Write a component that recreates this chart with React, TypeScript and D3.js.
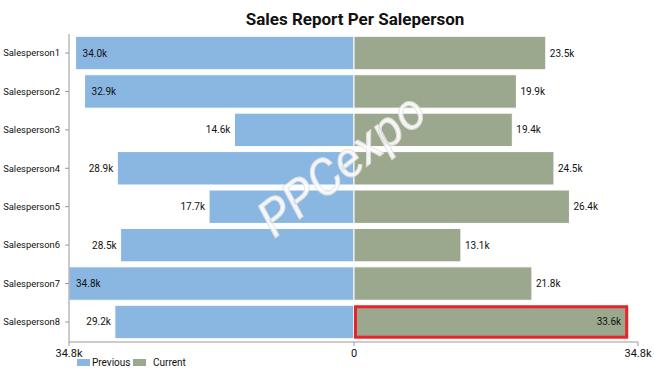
import React from 'react';
import { scaleBand, scaleLinear, max } from 'd3';

const categories = ['Salesperson1', 'Salesperson2', 'Salesperson3', 'Salesperson4', 'Salesperson5', 'Salesperson6', 'Salesperson7', 'Salesperson8'];
const previous = [34.0, 32.9, 14.6, 28.9, 17.7, 28.5, 34.8, 29.2];
const current = [23.5, 19.9, 19.4, 24.5, 26.4, 13.1, 21.8, 33.6];
const highlighted = ['Salesperson8'];

const W = 655;
const H = 375;
const left = 69;
const mid = 354;
const right = 638;
const top = 34;
const bottom = 341;

const fmt = (v: number) => `${v.toFixed(1)}k`;
const font = 'Roboto, sans-serif';

const App: React.FC = () => {
  const maxV = max([...previous, ...current]) as number;
  const y = scaleBand<string>().domain(categories).range([top, bottom]).paddingInner(0.13).paddingOuter(0.06);
  const xl = scaleLinear().domain([0, maxV]).range([mid, left]);
  const xr = scaleLinear().domain([0, maxV]).range([mid, right]);
  const bw = y.bandwidth();
  const labelW = 30;

  return (
    <svg width={W} height={H} style={{ position: 'absolute', left: 0, top: 0, fontFamily: font }}>
      <rect width={W} height={H} fill="#fff" />
      <text x={355} y={25} textAnchor="middle" fontSize={17} fontWeight="bold" fill="#111">Sales Report Per Saleperson</text>

      {categories.map((c, i) => {
        const yy = y(c)!;
        const cy = yy + bw / 2;
        const xp = xl(previous[i]);
        const xc = xr(current[i]);
        const prevInside = xp - left < labelW + 6;
        const curInside = right - xc < labelW + 6;
        return (
          <g key={c}>
            <rect x={xp} y={yy} width={mid - xp} height={bw} fill="#89B7E1" stroke="#fff" strokeWidth={1} />
            <rect x={mid} y={yy} width={xc - mid} height={bw} fill="#9BA88D" stroke="#fff" strokeWidth={1} />
            {highlighted.includes(c) && (
              <rect x={mid + 1.5} y={yy + 1.5} width={xc - mid - 3} height={bw - 3} fill="none" stroke="#E8232A" strokeWidth={3} />
            )}
            <text x={prevInside ? xp + 7 : xp - 4} y={cy} dy="0.35em" textAnchor={prevInside ? 'start' : 'end'} fontSize={10} fill="#111">{fmt(previous[i])}</text>
            <text x={curInside ? xc - 7 : xc + 4} y={cy} dy="0.35em" textAnchor={curInside ? 'end' : 'start'} fontSize={10} fill="#111">{fmt(current[i])}</text>
            <line x1={left - 4} x2={left} y1={cy} y2={cy} stroke="#999" />
            <text x={left - 9} y={cy} dy="0.35em" textAnchor="end" fontSize={9.4} fill="#111">{c}</text>
          </g>
        );
      })}

      <text x={352} y={178} textAnchor="middle" fontSize={50} fontStyle="italic" fill="#fff" stroke="#e2e2e2" strokeWidth={1} opacity={0.9} transform="rotate(-38 352 178)">PPCexpo</text>

      <line x1={left} x2={left} y1={top} y2={bottom + 1} stroke="#999" />
      <line x1={left} x2={right} y1={bottom + 1} y2={bottom + 1} stroke="#999" />
      {[xl(maxV), mid, xr(maxV)].map((x, i) => (
        <g key={i}>
          <line x1={x} x2={x} y1={bottom + 1} y2={bottom + 5} stroke="#999" />
          <text x={x} y={bottom + 16} textAnchor="middle" fontSize={11} fill="#111">{i === 1 ? '0' : fmt(maxV)}</text>
        </g>
      ))}

      <rect x={77} y={359} width={13} height={7} fill="#89B7E1" />
      <text x={92} y={366} fontSize={10} fill="#111">Previous</text>
      <rect x={133} y={359} width={13} height={7} fill="#9BA88D" />
      <text x={153} y={366} fontSize={10} fill="#111">Current</text>
    </svg>
  );
};

export default App;
